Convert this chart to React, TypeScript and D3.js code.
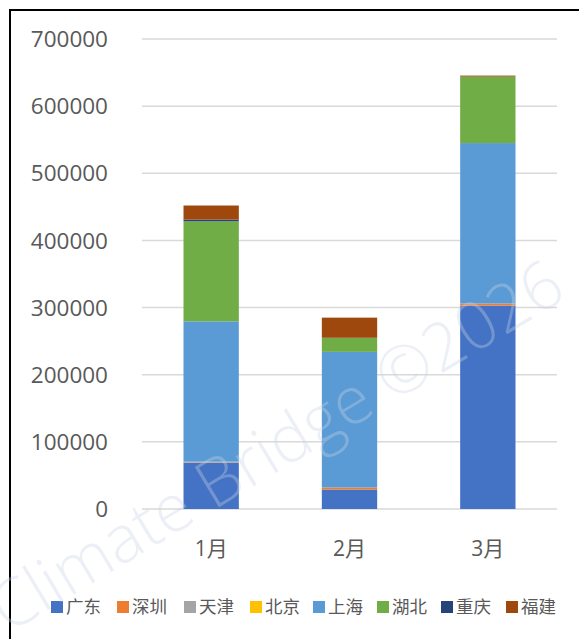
import * as d3 from "d3";
import React from "react";

const months = ["1月", "2月", "3月"];
const regions = ["广东", "深圳", "天津", "北京", "上海", "湖北", "重庆", "福建"];
const colors = ["#4472C4", "#ED7D31", "#A5A5A5", "#FFC000", "#5B9BD5", "#70AD47", "#264478", "#9E480E"];
const guangdong = [69000, 29000, 303000];
const shenzhen = [500, 3000, 3000];
const tianjin = [1000, 0, 0];
const beijing = [0, 0, 0];
const shanghai = [209000, 202000, 239000];
const hubei = [149000, 21000, 99000];
const chongqing = [2500, 0, 0];
const fujian = [21000, 30000, 1500];
const yTicks = [0, 100000, 200000, 300000, 400000, 500000, 600000, 700000];

const W = 579;
const H = 639;
const font = "'Open Sans', 'Noto Sans CJK SC', sans-serif";
const cjk = "'Noto Sans CJK SC', sans-serif";

export default function App() {
  const series = [guangdong, shenzhen, tianjin, beijing, shanghai, hubei, chongqing, fujian];
  const rows = months.map((m, i) => {
    const row: any = { month: m };
    regions.forEach((r, j) => (row[r] = series[j][i]));
    return row;
  });
  const stacked = d3.stack().keys(regions)(rows);

  const x = d3.scaleBand().domain(months).range([142, 557]).paddingInner(0.6).paddingOuter(0.3);
  const y = d3.scaleLinear().domain([0, 700000]).range([509, 39]);

  // legend layout
  const legendX = [51, 117, 184, 250, 313, 377, 441, 506];

  return (
    <svg width={W} height={H} style={{ position: "absolute", left: 0, top: 0, background: "#fff" }}>
      <rect x={0} y={0} width={W} height={H} fill="#fff" />
      <rect x={10} y={10} width={620} height={660} fill="none" stroke="#000" strokeWidth={2} />
      {yTicks.map((t) => (
        <g key={t}>
          <line x1={142} x2={557} y1={y(t)} y2={y(t)} stroke="#d9d9d9" strokeWidth={1.5} />
          <text x={108} y={y(t)} dy="0.36em" textAnchor="end" fontSize={22.5} fill="#595959" fontFamily={font}>
            {t}
          </text>
        </g>
      ))}
      {stacked.map((s, j) => (
        <g key={regions[j]} fill={colors[j]}>
          {s.map((d, i) => (
            <rect
              key={i}
              x={x(months[i])}
              width={x.bandwidth()}
              y={y(d[1])}
              height={Math.max(0, y(d[0]) - y(d[1]))}
            />
          ))}
        </g>
      ))}
      {months.map((m) => (
        <text key={m} x={x(m)! + x.bandwidth() / 2} y={549} dy="0.35em" textAnchor="middle" fontSize={21} fill="#595959" fontFamily={font}>
          {m}
        </text>
      ))}
      {regions.map((r, j) => (
        <g key={r} transform={`translate(${legendX[j]},607)`}>
          <rect x={0} y={-6} width={12} height={12} fill={colors[j]} />
          <text x={15} y={0} dy="0.35em" fontSize={17.5} fill="#595959" fontFamily={cjk}>
            {r}
          </text>
        </g>
      ))}
      <text
        transform="translate(8,634) rotate(-31)"
        fontSize={66}
        fill="#c9d3e5"
        fillOpacity={0.35}
        fontFamily="'Open Sans', sans-serif"
        fontWeight={300}
      >
        Climate Bridge ©2026
      </text>
    </svg>
  );
}
